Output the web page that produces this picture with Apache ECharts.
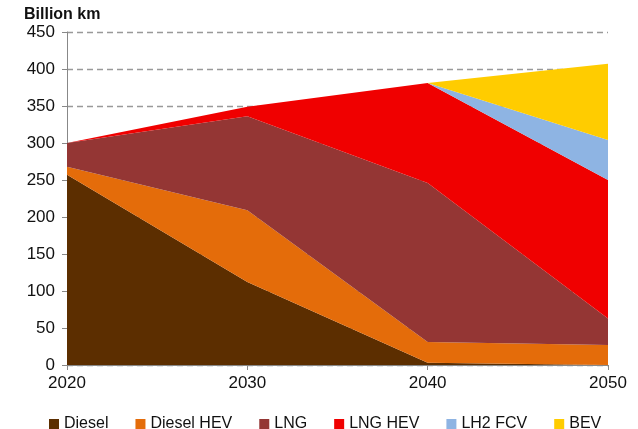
<!DOCTYPE html>
<html><head><meta charset="utf-8">
<script src="https://cdn.jsdelivr.net/npm/echarts@6/dist/echarts.min.js"></script>
<style>html,body{margin:0;padding:0;background:#fff}#c{width:638px;height:429px}</style>
</head><body><div id="c"></div>
<script>
const years = ['2020','2030','2040','2050'];
const diesel = [257, 112, 3, 0];
const dieselHEV = [11, 97, 28, 27];
const lng = [32, 127, 215, 36];
const lngHEV = [0, 13, 135, 187];
const lh2FCV = [0, 0, 0, 54];
const bev = [0, 0, 0, 103];
const names = ['Diesel','Diesel HEV','LNG','LNG HEV','LH2 FCV','BEV'];
const colors = ['#5C2E00','#E46C0A','#943634','#F00000','#8EB4E3','#FFCC00'];
const dataSets = [diesel, dieselHEV, lng, lngHEV, lh2FCV, bev];

const chart = echarts.init(document.getElementById('c'));
chart.setOption({
  animation:false,
  color: colors,
  title:{text:'Billion km', left:19, top:2, textStyle:{fontFamily:'Liberation Sans, Arial', fontSize:16, fontWeight:'bold', color:'#111'}},
  grid:{left:67, right:30, top:32, bottom:64},
  legend:{top:411, left:44, itemWidth:10, itemHeight:10, itemGap:27, icon:'rect',
    textStyle:{fontFamily:'Liberation Sans, Arial', fontSize:16, color:'#111'}, data:names},
  xAxis:{type:'category', data:years, boundaryGap:false,
    axisLine:{lineStyle:{color:'#888'}}, axisTick:{show:true, length:5, lineStyle:{color:'#888'}},
    axisLabel:{fontFamily:'Liberation Sans, Arial', fontSize:17, color:'#111', margin:10}},
  yAxis:{type:'value', min:0, max:450, interval:50,
    axisLine:{show:true, lineStyle:{color:'#888'}}, axisTick:{show:true, length:5, lineStyle:{color:'#888'}},
    splitLine:{lineStyle:{color:'#999', type:[6,4], width:1.3}},
    axisLabel:{fontFamily:'Liberation Sans, Arial', fontSize:17, color:'#111', margin:12}},
  series: names.map((n,i)=>({name:n, type:'line', stack:'total', data:dataSets[i],
    symbol:'none', lineStyle:{width:0}, areaStyle:{color:colors[i], opacity:1}, z:2}))
});
</script></body></html>
